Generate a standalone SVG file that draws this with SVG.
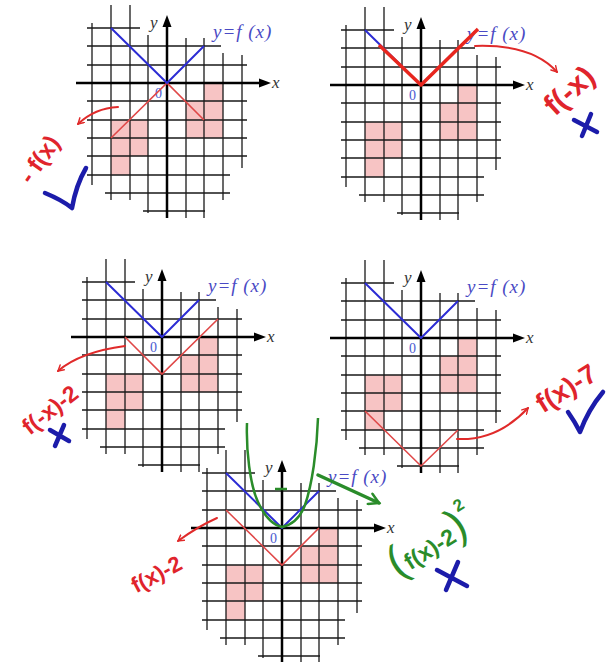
<svg xmlns="http://www.w3.org/2000/svg" xmlns:xlink="http://www.w3.org/1999/xlink" width="610" height="662" viewBox="0 0 610 662">
<style>
.g{stroke:#1a1a1a;stroke-width:1.3;fill:none}
.ax{stroke:#000;stroke-width:2.5;fill:none}
.pk{fill:#f7c4c4}
.bl{stroke:#2c2cd4;stroke-width:2;fill:none;stroke-linejoin:round}
.rd{stroke:#e04848;stroke-width:1.6;fill:none}
.lab{font-family:"Liberation Serif",serif;font-style:italic;font-size:19px;fill:#4a4ac4;letter-spacing:1px}
.axl{font-family:"Liberation Serif",serif;font-style:italic;font-size:17px;fill:#333}
.zero{font-family:"Liberation Serif",serif;font-size:14px;fill:#4a5ad0}
.hw{font-family:"Liberation Sans",sans-serif;font-weight:bold;fill:#e0242c}
.arr{stroke:#e02a2a;stroke-width:2;fill:none;stroke-linecap:round}
.mk{stroke:#1c1caa;stroke-width:4.5;fill:none;stroke-linecap:round;stroke-linejoin:round}
</style>
<defs>
<marker id="ah" viewBox="0 0 10 10" refX="8" refY="5" markerWidth="8" markerHeight="8" orient="auto" markerUnits="userSpaceOnUse">
<path d="M1,1 L8,5 L1,9" fill="none" stroke="#e02a2a" stroke-width="1.8" stroke-linecap="round"/>
</marker>
<marker id="ahg" viewBox="0 0 10 10" refX="8" refY="5" markerWidth="14" markerHeight="14" orient="auto" markerUnits="userSpaceOnUse">
<path d="M1,1 L8,5 L1,9" fill="none" stroke="#2a8c2a" stroke-width="1.8" stroke-linecap="round"/>
</marker>
<g id="grid">
<rect class="pk" x="-56" y="37" width="37" height="36"/>
<rect class="pk" x="-56" y="73" width="19" height="19"/>
<rect class="pk" x="37" y="0" width="19" height="55"/>
<rect class="pk" x="19" y="18" width="18" height="37"/>
<path class="g" d="M-80,-55H-27M-80,-37H54M-80,-18H80M-80,18H80M-80,37H80M-80,55H80M-80,73H80M-80,92H63M-62,110H63M-24,128H38"/>
<path class="g" d="M-75,-60V102M-56,-78V117M-37,-78V117M-19,-48V130M19,-45V135M37,-45V135M56,-30V117M75,-28V85"/>
<path class="ax" d="M-91,0H95M0,-60V135"/>
<polygon points="92,-4.5 104,0 92,4.5" fill="#000"/>
<polygon points="-4.5,-56 0,-68 4.5,-56" fill="#000"/>
<text class="axl" x="-17" y="-55">y</text>
<text class="axl" x="105" y="5">x</text>
<text class="zero" x="-12" y="15">0</text>
<text class="lab" x="46" y="-45">y=f (x)</text>
</g>
</defs>

<g id="panel-1" transform="translate(167,83)">
<use xlink:href="#grid"/>
<polyline class="rd" points="-56,55 0,0 37,37"/>
<polyline class="bl" points="-56,-55 0,0 37,-37"/>
</g>

<g id="panel-2" transform="translate(421,85)">
<use xlink:href="#grid"/>
<polyline class="bl" points="-56,-55 0,0 37,-37"/>
<polyline points="-42,-40 0,0 57,-56" fill="none" stroke="#e8261e" stroke-width="3.5" stroke-linejoin="round"/>
</g>

<g id="panel-3" transform="translate(162,337)">
<use xlink:href="#grid"/>
<polyline class="bl" points="-56,-55 0,0 37,-37"/>
<polyline class="rd" points="-37,0 0,37 56,-18"/>
</g>

<g id="panel-4" transform="translate(421,338)">
<use xlink:href="#grid"/>
<polyline class="bl" points="-56,-55 0,0 37,-37"/>
<polyline class="rd" points="-56,73 0,128 37,92"/>
</g>

<g id="panel-5" transform="translate(282,528)">
<use xlink:href="#grid"/>
<polyline class="rd" points="-56,-18 0,37 37,0"/>
<polyline class="bl" points="-56,-55 0,0 37,-37"/>
<path d="M247,423 C246,450 250,485 258,502 C264,515 272,525 282,527 C292,525 300,518 305,505 C312,485 317,450 318,418" transform="translate(-282,-528)" fill="none" stroke="#2a8c2a" stroke-width="2.5"/>
<path d="M-7,-39 H5" stroke="#2a8c2a" stroke-width="2.5"/>
</g>

<g id="arrows">
<path class="arr" d="M118,107 Q95,108 78,124" marker-end="url(#ah)"/>
<path class="arr" d="M475,46 Q532,44 557,72" marker-end="url(#ah)"/>
<path class="arr" d="M125,346 Q80,352 58,371" marker-end="url(#ah)"/>
<path class="arr" d="M457,439 Q497,441 528,408" marker-end="url(#ah)"/>
<path class="arr" d="M217,518 Q197,527 178,541" marker-end="url(#ah)"/>
<path d="M318,475 L379,503" stroke="#2a8c2a" stroke-width="3.5" fill="none" stroke-linecap="round" marker-end="url(#ahg)"/>
</g>

<g id="notes">
<text class="hw" font-size="24" text-anchor="middle" transform="translate(46,164) rotate(-55)">- f(x)</text>
<text class="hw" font-size="30" text-anchor="middle" transform="translate(576,98) rotate(-42)">f(-x)</text>
<text class="hw" font-size="23" text-anchor="middle" transform="translate(55,416) rotate(-38)">f(-x)-2</text>
<text class="hw" font-size="27" text-anchor="middle" transform="translate(571,396) rotate(-32)">f(x)-7</text>
<text class="hw" font-size="22" text-anchor="middle" transform="translate(160,581) rotate(-28)">f(x)-2</text>
<text font-family="Liberation Sans,sans-serif" font-weight="bold" fill="#2a8c2a" transform="translate(438,553) rotate(-32)" text-anchor="middle"><tspan font-size="44" font-weight="normal">(</tspan><tspan font-size="23">f(x)-2</tspan><tspan font-size="44" font-weight="normal">)</tspan><tspan font-size="17" dy="-24">2</tspan></text>
<path class="mk" d="M45,193 Q62,200 72,208 Q76,185 86,168"/>
<path class="mk" d="M568,412 Q575,422 580,432 Q588,410 603,392"/>
<path class="mk" d="M574,120 L597,132 M582,136 L591,114"/>
<path class="mk" d="M50,430 L69,441 M55,446 L64,425"/>
<path class="mk" d="M437,570 L467,586 M446,590 L458,562"/>
</g>
</svg>
